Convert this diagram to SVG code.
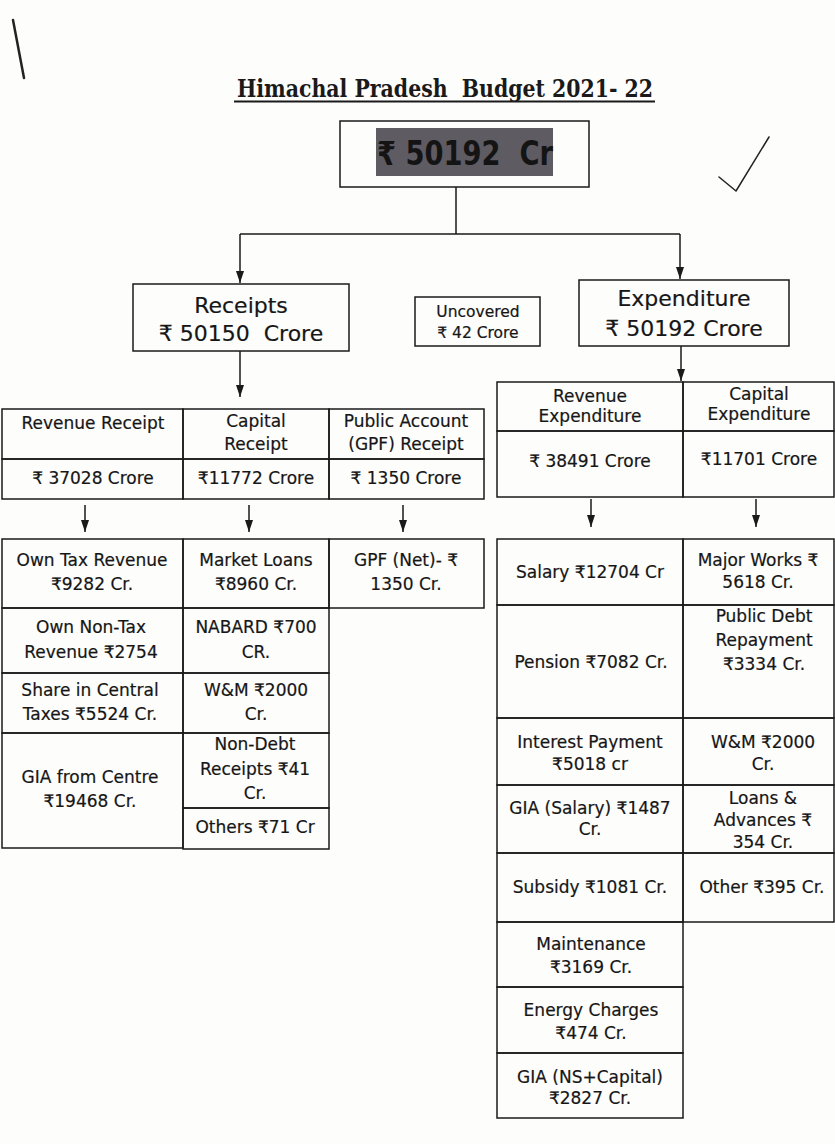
<svg xmlns="http://www.w3.org/2000/svg" width="835" height="1144" viewBox="0 0 835 1144">
<defs>
<style>
.t{font-family:"DejaVu Sans","Noto Sans",sans-serif;font-size:17px;fill:#161616;stroke:#161616;stroke-width:0.2;text-anchor:middle;dominant-baseline:central}
.big{font-size:22px}
.sm{font-size:15.5px}
.b{fill:none;stroke:#1a1a1a;stroke-width:1.5}
.c{fill:none;stroke:#1a1a1a;stroke-width:1.5}
.title{font-family:"DejaVu Serif Condensed","DejaVu Serif","Liberation Serif",serif;font-weight:bold;font-size:25px;fill:#1a1a1a;white-space:pre}
</style>
<marker id="ah" viewBox="0 0 12 8" refX="12" refY="4" markerWidth="12" markerHeight="8" markerUnits="userSpaceOnUse" orient="auto"><path d="M0,0 L12,4 L0,8 z" fill="#1a1a1a"/></marker>
</defs>
<rect width="835" height="1144" fill="#fdfdfc"/>

<!-- handwritten marks -->
<path d="M13,20 L24,78" stroke="#222" stroke-width="2.5" fill="none" stroke-linecap="round"/>
<path d="M719,177 L736,191 L769,137" stroke="#222" stroke-width="1.5" fill="none" stroke-linecap="round" stroke-linejoin="round"/>

<g id="title">
<text class="title" x="237" y="97" textLength="416" lengthAdjust="spacingAndGlyphs">Himachal Pradesh  Budget 2021- 22</text>
<line x1="234" y1="101.5" x2="655" y2="101.5" stroke="#1a1a1a" stroke-width="2"/>
</g>

<g id="total">
<rect class="b" x="340" y="121" width="249" height="66"/>
<rect x="376" y="128" width="177" height="48" fill="#5f5b63"/>
<text x="377" y="153" dominant-baseline="central" font-family="'DejaVu Sans Condensed','DejaVu Sans',sans-serif" font-weight="bold" font-size="33" fill="#141414" textLength="176" lengthAdjust="spacingAndGlyphs" style="white-space:pre">₹ 50192  Cr</text>
</g>

<g id="connectors">
<path class="c" d="M456,187 V234 M240,234 H680"/>
<path class="c" d="M240,234 V283" marker-end="url(#ah)"/>
<path class="c" d="M680,234 V279" marker-end="url(#ah)"/>
<path class="c" d="M240,351 V397" marker-end="url(#ah)"/>
<path class="c" d="M681,346 V381" marker-end="url(#ah)"/>
<path class="c" d="M85,505 V532" marker-end="url(#ah)"/>
<path class="c" d="M249,505 V532" marker-end="url(#ah)"/>
<path class="c" d="M403,505 V532" marker-end="url(#ah)"/>
<path class="c" d="M591,499 V527" marker-end="url(#ah)"/>
<path class="c" d="M756,499 V527" marker-end="url(#ah)"/>
</g>

<g id="receipts">
<rect class="b" x="133" y="284" width="216" height="67"/>
<text class="t big" x="241" y="305">Receipts</text>
<text class="t big" x="241" y="333" style="white-space:pre">₹ 50150  Crore</text>
</g>
<g id="uncovered">
<rect class="b" x="415" y="297" width="125" height="49"/>
<text class="t sm" x="478" y="312">Uncovered</text>
<text class="t sm" x="478" y="333">₹ 42 Crore</text>
</g>
<g id="expenditure">
<rect class="b" x="579" y="280" width="210" height="66"/>
<text class="t big" x="684" y="298">Expenditure</text>
<text class="t big" x="684" y="328">₹ 50192 Crore</text>
</g>

<!-- Receipts level 1 -->
<g id="rev-receipt">
<rect class="b" x="2" y="409" width="181" height="50"/>
<text class="t" x="93" y="423">Revenue Receipt</text>
</g>
<g id="cap-receipt">
<rect class="b" x="183" y="409" width="146" height="50"/>
<text class="t" x="256" y="421">Capital</text>
<text class="t" x="256" y="444">Receipt</text>
</g>
<g id="pub-receipt">
<rect class="b" x="329" y="409" width="155" height="50"/>
<text class="t" x="406" y="421">Public Account</text>
<text class="t" x="406" y="444">(GPF) Receipt</text>
</g>
<g id="rev-receipt-amt">
<rect class="b" x="2" y="459" width="181" height="40"/>
<text class="t" x="93" y="478">₹ 37028 Crore</text>
</g>
<g id="cap-receipt-amt">
<rect class="b" x="183" y="459" width="146" height="40"/>
<text class="t" x="256" y="478">₹11772 Crore</text>
</g>
<g id="pub-receipt-amt">
<rect class="b" x="329" y="459" width="155" height="40"/>
<text class="t" x="406" y="478">₹ 1350 Crore</text>
</g>

<!-- Receipts level 2 -->
<g id="own-tax">
<rect class="b" x="2" y="539" width="181" height="69"/>
<text class="t" x="92" y="560">Own Tax Revenue</text>
<text class="t" x="92" y="584">₹9282 Cr.</text>
</g>
<g id="market-loans">
<rect class="b" x="183" y="539" width="146" height="69"/>
<text class="t" x="256" y="560">Market Loans</text>
<text class="t" x="256" y="584">₹8960 Cr.</text>
</g>
<g id="gpf-net">
<rect class="b" x="329" y="539" width="155" height="69"/>
<text class="t" x="406" y="560">GPF (Net)- ₹</text>
<text class="t" x="406" y="584">1350 Cr.</text>
</g>
<g id="own-nontax">
<rect class="b" x="2" y="608" width="181" height="65"/>
<text class="t" x="91" y="627">Own Non-Tax</text>
<text class="t" x="91" y="652">Revenue ₹2754</text>
</g>
<g id="share-central">
<rect class="b" x="2" y="673" width="181" height="60"/>
<text class="t" x="90" y="690">Share in Central</text>
<text class="t" x="90" y="714">Taxes ₹5524 Cr.</text>
</g>
<g id="gia-centre">
<rect class="b" x="2" y="733" width="181" height="115"/>
<text class="t" x="90" y="777">GIA from Centre</text>
<text class="t" x="90" y="801">₹19468 Cr.</text>
</g>
<g id="nabard">
<rect class="b" x="183" y="608" width="146" height="65"/>
<text class="t" x="256" y="627">NABARD ₹700</text>
<text class="t" x="256" y="652">CR.</text>
</g>
<g id="wm-receipt">
<rect class="b" x="183" y="673" width="146" height="60"/>
<text class="t" x="256" y="690">W&amp;M ₹2000</text>
<text class="t" x="256" y="714">Cr.</text>
</g>
<g id="non-debt">
<rect class="b" x="183" y="733" width="146" height="75"/>
<text class="t" x="255" y="744">Non-Debt</text>
<text class="t" x="255" y="769">Receipts ₹41</text>
<text class="t" x="255" y="793">Cr.</text>
</g>
<g id="others-receipt">
<rect class="b" x="183" y="808" width="146" height="41"/>
<text class="t" x="255" y="827">Others ₹71 Cr</text>
</g>

<!-- Expenditure level 1 -->
<g id="rev-exp">
<rect class="b" x="497" y="382" width="186" height="49"/>
<text class="t" x="590" y="396">Revenue</text>
<text class="t" x="590" y="416">Expenditure</text>
</g>
<g id="cap-exp">
<rect class="b" x="683" y="382" width="151" height="49"/>
<text class="t" x="759" y="394">Capital</text>
<text class="t" x="759" y="414">Expenditure</text>
</g>
<g id="rev-exp-amt">
<rect class="b" x="497" y="431" width="186" height="66"/>
<text class="t" x="590" y="461">₹ 38491 Crore</text>
</g>
<g id="cap-exp-amt">
<rect class="b" x="683" y="431" width="151" height="66"/>
<text class="t" x="759" y="459">₹11701 Crore</text>
</g>

<!-- Expenditure level 2 -->
<g id="salary">
<rect class="b" x="497" y="539" width="186" height="66"/>
<text class="t" x="590" y="572">Salary ₹12704 Cr</text>
</g>
<g id="pension">
<rect class="b" x="497" y="605" width="186" height="113"/>
<text class="t" x="591" y="662">Pension ₹7082 Cr.</text>
</g>
<g id="interest">
<rect class="b" x="497" y="718" width="186" height="67"/>
<text class="t" x="590" y="742">Interest Payment</text>
<text class="t" x="590" y="764">₹5018 cr</text>
</g>
<g id="gia-salary">
<rect class="b" x="497" y="785" width="186" height="68"/>
<text class="t" x="590" y="808">GIA (Salary) ₹1487</text>
<text class="t" x="590" y="829">Cr.</text>
</g>
<g id="subsidy">
<rect class="b" x="497" y="853" width="186" height="69"/>
<text class="t" x="590" y="887">Subsidy ₹1081 Cr.</text>
</g>
<g id="maintenance">
<rect class="b" x="497" y="922" width="186" height="65"/>
<text class="t" x="591" y="944">Maintenance</text>
<text class="t" x="591" y="967">₹3169 Cr.</text>
</g>
<g id="energy">
<rect class="b" x="497" y="987" width="186" height="66"/>
<text class="t" x="591" y="1010">Energy Charges</text>
<text class="t" x="591" y="1033">₹474 Cr.</text>
</g>
<g id="gia-ns">
<rect class="b" x="497" y="1053" width="186" height="65"/>
<text class="t" x="590" y="1077">GIA (NS+Capital)</text>
<text class="t" x="590" y="1098">₹2827 Cr.</text>
</g>
<g id="major-works">
<rect class="b" x="683" y="539" width="151" height="66"/>
<text class="t" x="758" y="560">Major Works ₹</text>
<text class="t" x="758" y="582">5618 Cr.</text>
</g>
<g id="public-debt">
<rect class="b" x="683" y="605" width="151" height="113"/>
<text class="t" x="764" y="616">Public Debt</text>
<text class="t" x="764" y="640">Repayment</text>
<text class="t" x="764" y="664">₹3334 Cr.</text>
</g>
<g id="wm-exp">
<rect class="b" x="683" y="718" width="151" height="67"/>
<text class="t" x="763" y="742">W&amp;M ₹2000</text>
<text class="t" x="763" y="764">Cr.</text>
</g>
<g id="loans">
<rect class="b" x="683" y="785" width="151" height="68"/>
<text class="t" x="763" y="798">Loans &amp;</text>
<text class="t" x="763" y="820">Advances ₹</text>
<text class="t" x="763" y="842">354 Cr.</text>
</g>
<g id="other-exp">
<rect class="b" x="683" y="853" width="151" height="69"/>
<text class="t" x="762" y="887">Other ₹395 Cr.</text>
</g>
</svg>
